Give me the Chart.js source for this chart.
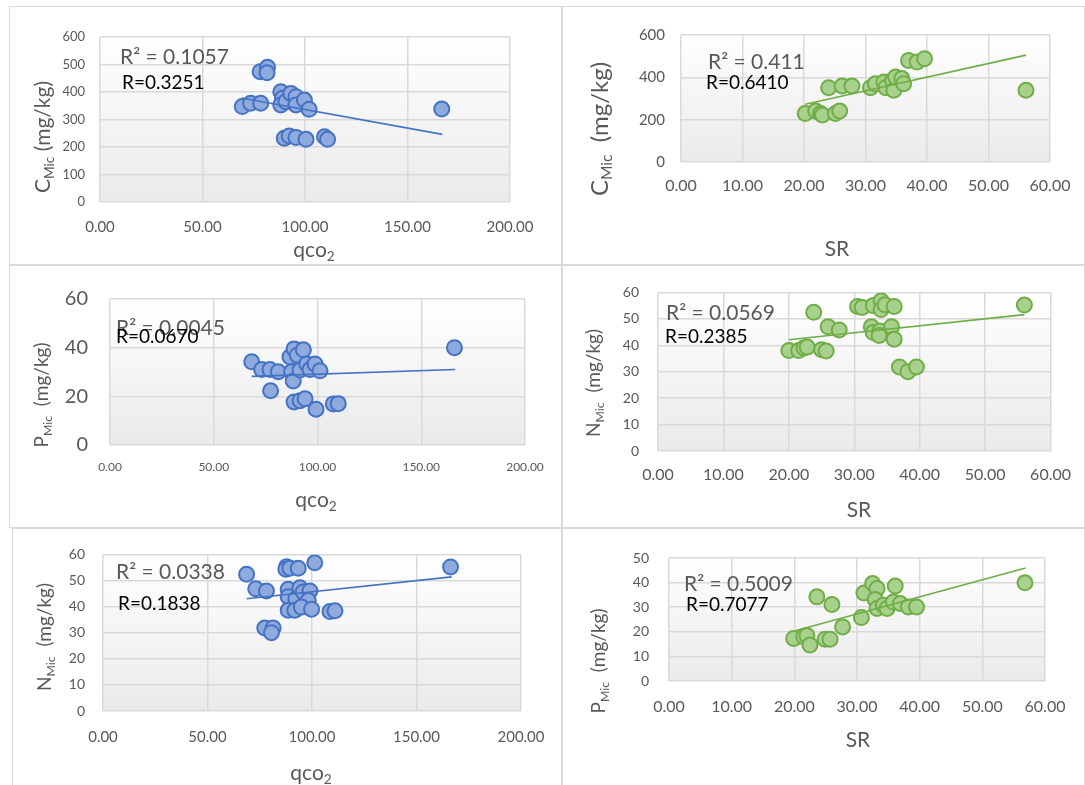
<!DOCTYPE html>
<html>
<head>
<meta charset="utf-8">
<script src="https://cdn.jsdelivr.net/npm/chart.js@4.4.0/dist/chart.umd.min.js"></script>
<style>
  body { margin: 0; background: #fff; width: 1085px; height: 785px; overflow: hidden; position: relative; }
  .frame { position: absolute; border: 1px solid #d9d9d9; box-sizing: border-box; }
  canvas { position: absolute; }
</style>
</head>
<body>
<script>
// qco2 vs Cmic
var qco2ForCmic = [69.4, 73.5, 78.4, 78.1, 81.7, 81.5, 88.2, 89.0, 88.2, 90.7, 93.1, 95.6, 95.6, 99.7, 102.0, 89.9, 92.3, 95.6, 100.5, 109.5, 111.0, 166.7];
var cmicForQco2 = [347, 359, 359, 474, 490, 470, 401, 377, 353, 365, 395, 383, 353, 371, 337, 232, 240, 235, 228, 237, 228, 338];
// SR vs Cmic
var srForCmic = [20.2, 21.9, 22.7, 23.0, 25.1, 25.8, 24.0, 26.2, 27.8, 30.8, 31.6, 33.0, 33.3, 34.4, 34.6, 34.9, 35.9, 36.2, 37.0, 38.4, 39.6, 56.1];
var cmicForSr = [229, 241, 229, 222, 229, 241, 351, 359, 359, 351, 370, 378, 351, 386, 339, 401, 394, 370, 480, 472, 488, 339];
// qco2 vs Pmic
var qco2ForPmic = [68.3, 73.1, 77.1, 81.1, 77.4, 86.7, 88.7, 90.3, 93.2, 87.5, 88.3, 91.6, 94.8, 96.4, 98.8, 101.2, 88.7, 91.6, 94.0, 99.3, 107.6, 110.0, 166.0];
var pmicForQco2 = [34.2, 31.0, 31.0, 30.1, 22.3, 36.2, 39.5, 36.9, 39.1, 30.1, 26.3, 30.8, 33.3, 31.0, 33.3, 30.5, 17.7, 18.2, 19.0, 14.7, 16.9, 17.0, 40.0];
// SR vs Nmic
var srForNmic = [20.0, 21.5, 22.3, 22.8, 25.0, 25.7, 23.8, 26.0, 27.7, 30.5, 31.2, 32.9, 34.1, 34.1, 34.7, 36.1, 32.6, 32.9, 33.9, 33.8, 35.7, 36.1, 36.9, 38.2, 39.5, 56.0];
var nmicForSr = [38.0, 38.0, 39.0, 39.3, 38.3, 37.8, 52.5, 47.0, 45.8, 54.7, 54.3, 55.0, 56.8, 53.5, 55.3, 54.7, 47.0, 44.8, 45.4, 43.7, 47.0, 42.3, 31.8, 30.0, 31.8, 55.2];
// qco2 vs Nmic
var qco2ForNmic = [68.7, 73.1, 78.2, 87.8, 87.5, 89.4, 93.4, 101.3, 88.6, 88.6, 92.3, 94.2, 95.8, 99.0, 98.2, 88.6, 91.8, 94.9, 99.8, 108.6, 111.0, 77.4, 81.4, 80.6, 166.3];
var nmicForQco2 = [52.4, 46.8, 46.0, 55.3, 54.3, 54.7, 54.7, 56.8, 46.6, 43.8, 42.9, 47.2, 45.6, 46.0, 42.3, 38.6, 38.6, 39.8, 39.0, 38.1, 38.4, 31.8, 31.8, 30.0, 55.2];
// SR vs Pmic
var srForPmic = [19.9, 21.5, 22.0, 22.5, 24.9, 25.7, 23.6, 26.0, 27.7, 30.7, 31.1, 32.5, 33.2, 32.9, 33.2, 34.2, 34.8, 36.1, 35.8, 36.9, 38.2, 39.5, 56.8];
var pmicForSr = [17.3, 18.0, 18.5, 14.6, 17.0, 17.0, 34.2, 31.1, 22.0, 25.8, 35.8, 39.6, 37.6, 33.1, 29.5, 30.8, 29.5, 38.6, 32.1, 31.5, 30.1, 30.1, 39.9];

// linear trendline ends (x, y)
var trendQco2CmicX = [69, 167],   trendQco2CmicY = [378, 246];
var trendSrCmicX = [20.2, 56.1],  trendSrCmicY = [273, 505];
var trendQco2PmicX = [68.3, 166.4], trendQco2PmicY = [28.2, 31.0];
var trendSrNmicX = [20, 56],      trendSrNmicY = [42.1, 51.6];
var trendQco2NmicX = [68.7, 166.8], trendQco2NmicY = [43, 51.4];
var trendSrPmicX = [20, 56.9],    trendSrPmicY = [20.3, 45.9];

var BLUE = { fill: '#8faadc', line: '#4472c4' };
var GREEN = { fill: '#a9d18e', line: '#70ad47' };
var FONT = 'Lato';

function pts(xs, ys) {
    return xs.map(function (x, i) { return { x: x, y: ys[i] }; });
}

// title pieces; sub:true gives a subscript
function yTitle(letter, gap) {
    return [{ t: letter }, { t: 'Mic', sub: true }, { t: gap + '(mg/kg)' }];
}
var QCO2 = [{ t: 'qco' }, { t: '2', sub: true }];
var SR = [{ t: 'SR' }];

function drawRich(ctx, parts, cx, cy, size, color, rotated) {
    ctx.save();
    ctx.translate(cx, cy);
    if (rotated) ctx.rotate(-Math.PI / 2);
    var widths = [], total = 0;
    parts.forEach(function (p) {
        ctx.font = (p.sub ? size * 0.65 : size) + 'px ' + FONT;
        var w = ctx.measureText(p.t).width;
        widths.push(w); total += w;
    });
    var x = -total / 2;
    ctx.fillStyle = color;
    ctx.textAlign = 'left';
    ctx.textBaseline = 'middle';
    parts.forEach(function (p, i) {
        ctx.font = (p.sub ? size * 0.65 : size) + 'px ' + FONT;
        ctx.fillText(p.t, x, p.sub ? size * 0.3 : 0);
        x += widths[i];
    });
    ctx.restore();
}

var panels = [
    { box: [9, 6, 553, 259], area: [100, 37, 510, 202], col: BLUE,
      xs: qco2ForCmic, ys: cmicForQco2, tx: trendQco2CmicX, ty: trendQco2CmicY,
      xmax: 200, xstep: 50, ymax: 600, ystep: 100,
      xfont: 15, xpad: 16, yfont: 13, ypad: 15,
      ytitle: yTitle('C', ' '), ytPos: [43, 137], ytSize: 21,
      xtitle: QCO2, xtPos: [314, 250],
      r2: 'R² = 0.1057', r2Pos: [120, 57], r: 'R=0.3251', rPos: [122, 83] },
    { box: [562, 6, 523, 259], area: [681, 35, 1050, 162], col: GREEN,
      xs: srForCmic, ys: cmicForSr, tx: trendSrCmicX, ty: trendSrCmicY,
      xmax: 60, xstep: 10, ymax: 600, ystep: 200,
      xfont: 16, xpad: 14, yfont: 15, ypad: 16,
      ytitle: yTitle('C', '  '), ytPos: [600, 129], ytSize: 24,
      xtitle: SR, xtPos: [837, 249],
      r2: 'R² = 0.411', r2Pos: [708, 62], r: 'R=0.6410', rPos: [706, 83] },
    { box: [9, 265, 553, 263], area: [110, 289, 525, 445], col: BLUE,
      xs: qco2ForPmic, ys: pmicForQco2, tx: trendQco2PmicX, ty: trendQco2PmicY,
      xmax: 200, xstep: 50, ymax: 60, ystep: 20,
      xfont: 12, xpad: 15, yfont: 20, ypad: 22,
      ytitle: yTitle('P', '  '), ytPos: [42, 395], ytSize: 19,
      xtitle: QCO2, xtPos: [316, 500],
      r2: 'R² = 0.0045', r2Pos: [116, 328], r: 'R=0.0670', rPos: [116, 337] },
    { box: [562, 265, 523, 263], area: [658, 289, 1060, 451], col: GREEN,
      xs: srForNmic, ys: nmicForSr, tx: trendSrNmicX, ty: trendSrNmicY,
      xmax: 60, xstep: 10, ymax: 60, ystep: 10,
      xfont: 16, xpad: 14, yfont: 14, ypad: 19,
      ytitle: yTitle('N', '  '), ytPos: [594, 383], ytSize: 19,
      xtitle: SR, xtPos: [859, 510],
      r2: 'R² = 0.0569', r2Pos: [666, 313], r: 'R=0.2385', rPos: [665, 337] },
    { box: [12, 528, 550, 260], area: [103, 549, 521, 711], col: BLUE,
      xs: qco2ForNmic, ys: nmicForQco2, tx: trendQco2NmicX, ty: trendQco2NmicY,
      xmax: 200, xstep: 50, ymax: 60, ystep: 10,
      xfont: 15, xpad: 17, yfont: 14, ypad: 18,
      ytitle: yTitle('N', '  '), ytPos: [45, 637], ytSize: 19,
      xtitle: QCO2, xtPos: [311, 773],
      r2: 'R² = 0.0338', r2Pos: [116, 572], r: 'R=0.1838', rPos: [118, 604] },
    { box: [562, 528, 523, 260], area: [669, 558, 1045, 681], col: GREEN,
      xs: srForPmic, ys: pmicForSr, tx: trendSrPmicX, ty: trendSrPmicY,
      xmax: 60, xstep: 10, ymax: 50, ystep: 10,
      xfont: 16, xpad: 16, yfont: 14, ypad: 20,
      ytitle: yTitle('P', '  '), ytPos: [599, 661], ytSize: 19,
      xtitle: SR, xtPos: [858, 740],
      r2: 'R² = 0.5009', r2Pos: [684, 584], r: 'R=0.7077', rPos: [686, 605] }
];

// light grey gradient behind the plot area, like the Excel style
var plotBg = {
    id: 'plotBg',
    beforeDraw: function (chart) {
        var a = chart.chartArea, ctx = chart.ctx;
        var g = ctx.createLinearGradient(0, a.top, 0, a.bottom);
        g.addColorStop(0, '#ffffff');
        g.addColorStop(1, '#eaeaea');
        ctx.save();
        ctx.fillStyle = g;
        ctx.fillRect(a.left, a.top, a.right - a.left, a.bottom - a.top);
        ctx.restore();
    }
};

var texts = {
    id: 'texts',
    afterDraw: function (chart) {
        var p = chart.config.options.panel, ctx = chart.ctx;
        var ox = p.box[0], oy = p.box[1];
        drawRich(ctx, p.ytitle, p.ytPos[0] - ox, p.ytPos[1] - oy, p.ytSize, '#595959', true);
        drawRich(ctx, p.xtitle, p.xtPos[0] - ox, p.xtPos[1] - oy, 21, '#595959', false);
        ctx.save();
        ctx.textAlign = 'left';
        ctx.textBaseline = 'middle';
        ctx.font = '21px ' + FONT;
        ctx.fillStyle = '#595959';
        ctx.fillText(p.r2, p.r2Pos[0] - ox, p.r2Pos[1] - oy);
        ctx.font = '19px ' + FONT;
        ctx.fillStyle = '#000000';
        ctx.fillText(p.r, p.rPos[0] - ox, p.rPos[1] - oy);
        ctx.restore();
    }
};

panels.forEach(function (p) {
    var frame = document.createElement('div');
    frame.className = 'frame';
    frame.style.left = p.box[0] + 'px';
    frame.style.top = p.box[1] + 'px';
    frame.style.width = p.box[2] + 'px';
    frame.style.height = p.box[3] + 'px';
    document.body.appendChild(frame);

    var cv = document.createElement('canvas');
    cv.width = p.box[2];
    cv.height = p.box[3];
    cv.style.left = p.box[0] + 'px';
    cv.style.top = p.box[1] + 'px';
    document.body.appendChild(cv);

    var left = p.area[0] - p.box[0];
    var top = p.area[1] - p.box[1];
    var right = p.area[2] - p.box[0];
    var bottom = p.area[3] - p.box[1];
    var tickColor = '#595959';

    new Chart(cv, {
        type: 'scatter',
        data: {
            datasets: [{
                // trendline first so it sits on top of the points
                data: pts(p.tx, p.ty),
                showLine: true,
                borderColor: p.col.line,
                borderWidth: 1.6,
                pointRadius: 0
            }, {
                data: pts(p.xs, p.ys),
                backgroundColor: p.col.fill,
                borderColor: p.col.line,
                borderWidth: 2,
                pointRadius: 7.5,
                pointHoverRadius: 7.5
            }]
        },
        options: {
            panel: p,
            responsive: false,
            animation: false,
            devicePixelRatio: 1,
            events: [],
            layout: { padding: { top: top, right: p.box[2] - right, left: 0, bottom: 0 } },
            plugins: { legend: { display: false }, tooltip: { enabled: false } },
            scales: {
                x: {
                    type: 'linear', min: 0, max: p.xmax,
                    ticks: {
                        stepSize: p.xstep, autoSkip: false, maxRotation: 0,
                        color: tickColor, padding: p.xpad,
                        font: { family: FONT, size: p.xfont },
                        callback: function (v) { return v.toFixed(2); }
                    },
                    grid: { color: '#d9d9d9', lineWidth: 1.5, drawTicks: false },
                    border: { display: false },
                    afterFit: function (s) { s.height = p.box[3] - bottom; }
                },
                y: {
                    type: 'linear', min: 0, max: p.ymax,
                    ticks: {
                        stepSize: p.ystep, autoSkip: false,
                        color: tickColor, padding: p.ypad,
                        font: { family: FONT, size: p.yfont }
                    },
                    grid: { color: '#d9d9d9', lineWidth: 1.5, drawTicks: false },
                    border: { display: false },
                    afterFit: function (s) { s.width = left; }
                }
            }
        },
        plugins: [plotBg, texts]
    });
});
</script>
</body>
</html>
